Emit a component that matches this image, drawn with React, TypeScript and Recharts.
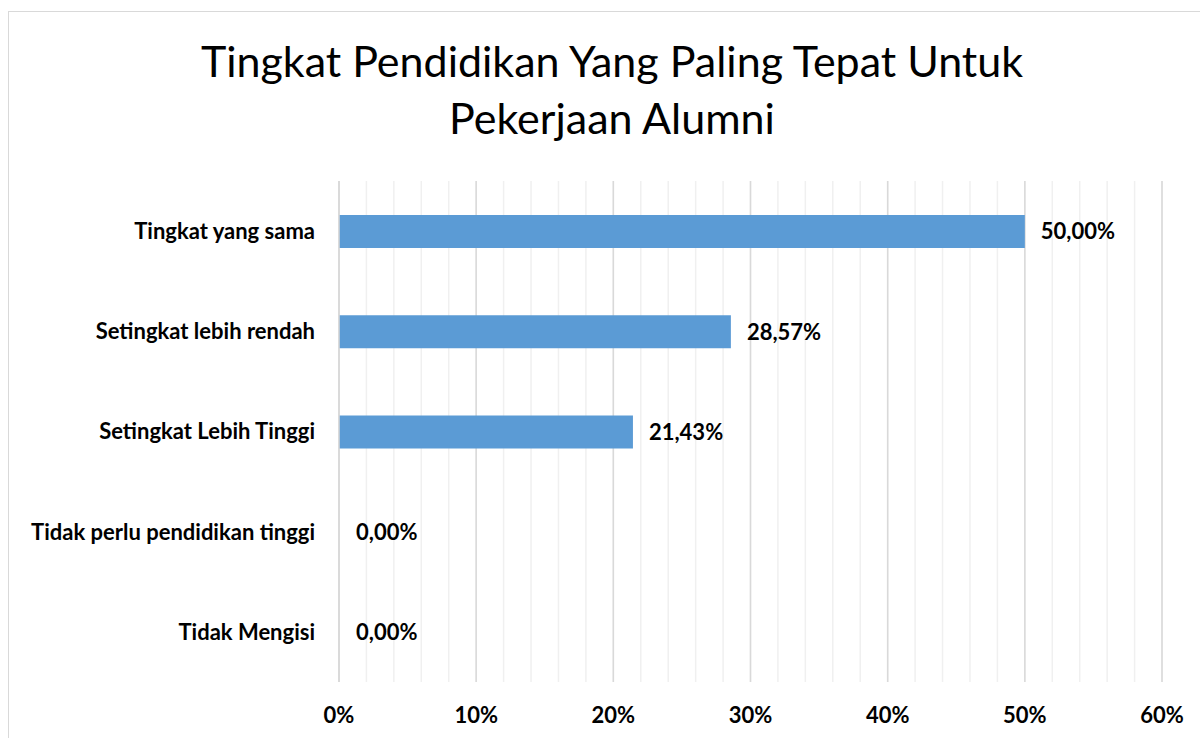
import { BarChart, Bar, XAxis, YAxis, CartesianGrid, LabelList, Cell } from "recharts";

const categories = [
  "Tingkat yang sama",
  "Setingkat lebih rendah",
  "Setingkat Lebih Tinggi",
  "Tidak perlu pendidikan tinggi",
  "Tidak Mengisi",
];
const shares = [0.5, 0.2857, 0.2143, 0, 0];
const majorTicks = [0, 0.1, 0.2, 0.3, 0.4, 0.5, 0.6];
const minorTicks = [
  0, 0.02, 0.04, 0.06, 0.08, 0.1, 0.12, 0.14, 0.16, 0.18, 0.2, 0.22, 0.24, 0.26, 0.28, 0.3,
  0.32, 0.34, 0.36, 0.38, 0.4, 0.42, 0.44, 0.46, 0.48, 0.5, 0.52, 0.54, 0.56, 0.58, 0.6,
];
const titleLines = ["Tingkat Pendidikan Yang Paling Tepat Untuk", "Pekerjaan Alumni"];

const data = categories.map((name, i) => ({ name, value: shares[i] }));

const FONT = "Lato, 'Open Sans', sans-serif";
const labelStyle = { fill: "#000", fontSize: 22, fontWeight: 700, fontFamily: FONT };

const pct = (v: number) => `${(v * 100).toFixed(2).replace(".", ",")}%`;

export default function App() {
  return (
    <div
      style={{
        position: "fixed",
        left: 0,
        top: 0,
        width: 1200,
        height: 738,
        overflow: "hidden",
        background: "#fff",
        fontFamily: FONT,
      }}
    >
      <div
        style={{
          position: "absolute",
          left: 8,
          top: 11,
          width: 1300,
          height: 800,
          borderLeft: "1.5px solid #d9d9d9",
          borderTop: "1.5px solid #d9d9d9",
        }}
      />
      {titleLines.map((t, i) => (
        <div
          key={i}
          style={{
            position: "absolute",
            left: 0,
            width: 1224,
            top: 35 + i * 57,
            textAlign: "center",
            fontSize: 43,
            lineHeight: "52px",
            color: "#000",
            whiteSpace: "nowrap",
          }}
        >
          {t}
        </div>
      ))}
      <div style={{ position: "absolute", left: 0, top: 0 }}>
        <BarChart
          width={1200}
          height={738}
          data={data}
          layout="vertical"
          margin={{ top: 181, right: 38, bottom: 0, left: 0 }}
          barCategoryGap={0}
        >
          <CartesianGrid
            horizontal={false}
            verticalValues={minorTicks}
            stroke="#f0f0f0"
            strokeWidth={1.5}
          />
          <CartesianGrid
            horizontal={false}
            verticalValues={majorTicks}
            stroke="#d9d9d9"
            strokeWidth={1.5}
          />
          <XAxis
            type="number"
            domain={[0, 0.6]}
            ticks={majorTicks}
            tickFormatter={(v: number) => `${Math.round(v * 100)}%`}
            axisLine={false}
            tickLine={false}
            tickSize={0}
            tickMargin={25}
            height={56}
            tick={labelStyle}
            interval={0}
          />
          <YAxis
            type="category"
            dataKey="name"
            width={339}
            axisLine={{ stroke: "#d9d9d9", strokeWidth: 1.5 }}
            tickLine={false}
            tickSize={0}
            tickMargin={24}
            tick={labelStyle}
            interval={0}
          />
          <Bar dataKey="value" fill="#5b9bd5" barSize={33} minPointSize={1} isAnimationActive={false}>
            {data.map((d, i) => (
              <Cell key={i} fill={d.value > 0 ? "#5b9bd5" : "transparent"} />
            ))}
            <LabelList
              dataKey="value"
              position="right"
              offset={16}
              formatter={(v: unknown) => (typeof v === "number" ? pct(v) : "")}
              style={labelStyle}
            />
          </Bar>
        </BarChart>
      </div>
    </div>
  );
}
